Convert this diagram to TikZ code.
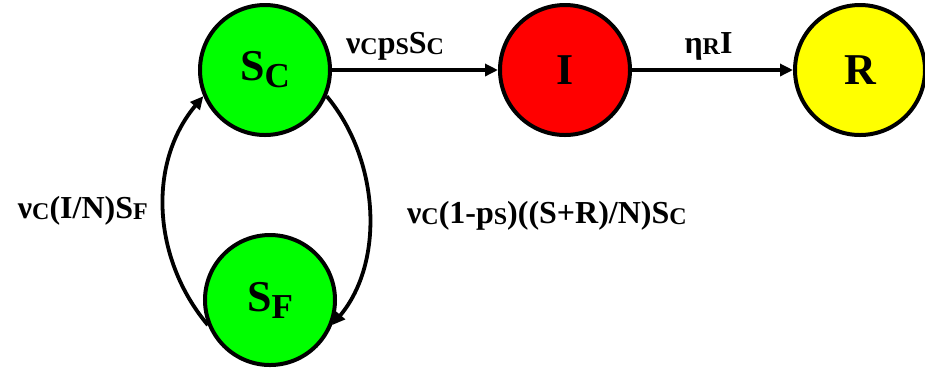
\documentclass[tikz,border=0pt]{standalone}
\usepackage{fontspec}
\setmainfont{Liberation Serif}
\usetikzlibrary{positioning, arrows.meta}
\newcommand{\NSub}[1]{\raisebox{-3.5pt}{\fontsize{17.5pt}{18pt}\selectfont #1}}
\newcommand{\LSub}[1]{\raisebox{-0.8pt}{\fontsize{12pt}{13pt}\selectfont #1}}
\definecolor{popgreen}{RGB}{0,255,0}
\definecolor{popred}{RGB}{255,0,0}
\definecolor{popyellow}{RGB}{255,255,0}
\tikzset{
    compartment/.style={circle, draw, line width=2pt, minimum size=65pt, inner sep=0pt,
        font=\fontsize{22pt}{24pt}\selectfont\bfseries},
    flow/.style={-{Triangle[length=6.5pt,width=6pt]}, line width=1.9pt},
    rate/.style={font=\fontsize{16pt}{18pt}\selectfont\bfseries, inner sep=1pt},
}

\begin{document}
\begin{tikzpicture}
    \tikzset{node distance=83pt}

    \useasboundingbox (-132.5pt,35pt) rectangle (330pt,-151pt);

    \node[compartment, fill=popgreen] (SC) at (0,0) {S\NSub{C}};
    \node[compartment, fill=popred, right=of SC] (I) {I};
    \node[compartment, fill=popyellow, right=80.5pt of I] (R) {R};
    \node[compartment, fill=popgreen, below=48pt of SC, xshift=2.5pt] (SF) {S\NSub{F}};

    \draw (SC) edge[flow] node[rate, above=3pt, pos=0.38]{ν\LSub{C}p\LSub{S}S\LSub{C}} (I);
    \draw (I) edge[flow] node[rate, above=3pt, xshift=-2pt]{η\LSub{R}I} (R);

    \draw (SF.202) edge[flow, out=130, in=230, looseness=0.97] node[rate, left=6pt, pos=0.5]{ν\LSub{C}(I/N)S\LSub{F}} (SC.203);
    \draw (SC.-23) edge[flow, out=-50, in=50, looseness=0.92] node[rate, right=17pt, pos=0.52]{ν\LSub{C}(1-p\LSub{S})((S+R)/N)S\LSub{C}} (SF.-22);
  \end{tikzpicture}
\end{document}
